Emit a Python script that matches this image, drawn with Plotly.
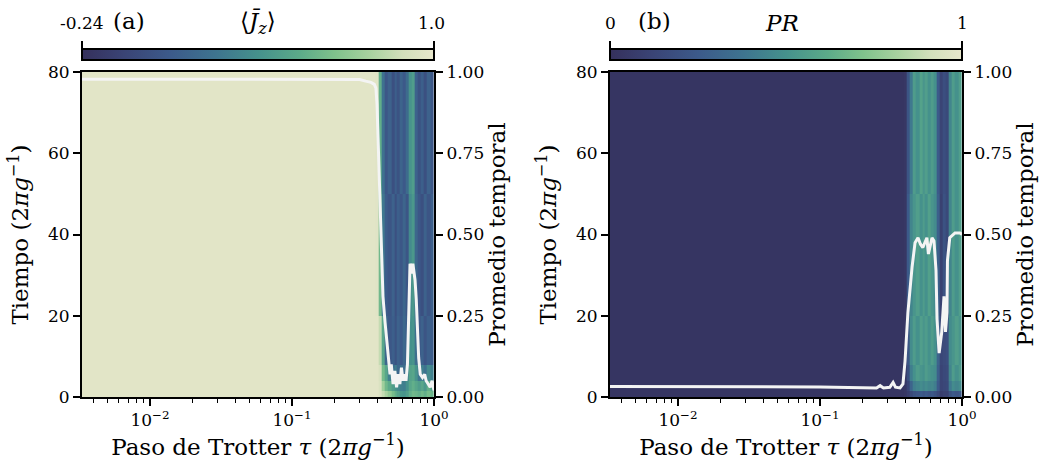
import plotly.graph_objects as go

# ---------------- data ----------------
tau_edges = [0.0033, 0.39, 0.41, 0.43, 0.45, 0.475, 0.50, 0.525, 0.55, 0.575,
             0.605, 0.635, 0.667, 0.70, 0.735, 0.77, 0.81, 0.85, 0.89, 0.94, 1.0]
time_edges = [0, 1.5, 4, 8, 20, 50, 80]

# <J_z> heat map, rows from t=0 upward
jz_values = [
    [0.97, 0.97, 0.93, 0.85, 0.78, 0.70, 0.62, 0.55, 0.48, 0.42, 0.40, 0.45, 0.55, 0.60, 0.58, 0.55, 0.60, 0.55, 0.62, 0.58],
    [0.97, 0.97, 0.93, 0.75, 0.60, 0.52, 0.45, 0.40, 0.35, 0.30, 0.28, 0.38, 0.50, 0.55, 0.50, 0.45, 0.50, 0.42, 0.55, 0.48],
    [0.97, 0.97, 0.92, 0.62, 0.50, 0.30, 0.20, 0.28, 0.15, 0.22, 0.18, 0.30, 0.48, 0.50, 0.40, 0.25, 0.30, 0.22, 0.35, 0.30],
    [0.97, 0.97, 0.85, 0.50, 0.15, 0.05, 0.10, 0.02, 0.12, 0.06, 0.15, 0.08, 0.38, 0.40, 0.20, 0.06, 0.12, 0.03, 0.10, 0.08],
    [0.97, 0.96, 0.60, 0.25, 0.08, 0.03, 0.12, 0.00, 0.10, 0.05, 0.14, 0.04, 0.35, 0.42, 0.15, 0.05, 0.00, 0.12, 0.03, 0.10],
    [0.97, 0.96, 0.55, 0.22, 0.05, 0.12, 0.00, 0.10, 0.02, 0.13, 0.06, 0.18, 0.40, 0.45, 0.12, 0.02, 0.10, 0.00, 0.12, 0.05],
]

# PR heat map, rows from t=0 upward
pr_values = [
    [0.03, 0.04, 0.08, 0.15, 0.20, 0.22, 0.25, 0.22, 0.25, 0.22, 0.24, 0.20, 0.15, 0.08, 0.10, 0.10, 0.20, 0.25, 0.22, 0.25],
    [0.03, 0.04, 0.12, 0.30, 0.42, 0.45, 0.48, 0.45, 0.48, 0.45, 0.46, 0.42, 0.25, 0.12, 0.14, 0.15, 0.40, 0.48, 0.45, 0.48],
    [0.03, 0.04, 0.18, 0.42, 0.50, 0.55, 0.52, 0.50, 0.55, 0.52, 0.50, 0.48, 0.28, 0.12, 0.15, 0.16, 0.45, 0.55, 0.50, 0.54],
    [0.03, 0.04, 0.22, 0.48, 0.55, 0.50, 0.56, 0.52, 0.55, 0.50, 0.55, 0.50, 0.30, 0.14, 0.16, 0.18, 0.48, 0.52, 0.56, 0.52],
    [0.03, 0.04, 0.25, 0.45, 0.52, 0.56, 0.50, 0.55, 0.50, 0.57, 0.52, 0.48, 0.28, 0.10, 0.20, 0.15, 0.45, 0.55, 0.50, 0.56],
    [0.03, 0.04, 0.22, 0.40, 0.55, 0.50, 0.58, 0.52, 0.56, 0.50, 0.55, 0.50, 0.25, 0.12, 0.18, 0.15, 0.45, 0.55, 0.50, 0.56],
]

# time averages (white curves)
jz_avg_tau = [0.0033, 0.03, 0.10, 0.30, 0.33, 0.36, 0.38, 0.39, 0.397, 0.41, 0.423, 0.437,
              0.452, 0.474, 0.49, 0.50, 0.515, 0.53, 0.545, 0.56, 0.575, 0.59, 0.605, 0.62,
              0.635, 0.65, 0.665, 0.678, 0.69, 0.70, 0.71, 0.72, 0.735, 0.75, 0.765, 0.78,
              0.80, 0.83, 0.86, 0.88, 0.91, 0.94, 0.97, 1.0]
jz_avg = [0.978, 0.978, 0.978, 0.977, 0.972, 0.968, 0.962, 0.95, 0.90, 0.70, 0.47, 0.31,
          0.23, 0.12, 0.07, 0.10, 0.04, 0.08, 0.03, 0.07, 0.04, 0.09, 0.05, 0.07,
          0.05, 0.10, 0.30, 0.41, 0.40, 0.38, 0.41, 0.39, 0.36, 0.30, 0.20, 0.12,
          0.07, 0.06, 0.07, 0.05, 0.04, 0.03, 0.05, 0.02]

pr_avg_tau = [0.0033, 0.03, 0.10, 0.25, 0.265, 0.28, 0.31, 0.327, 0.34, 0.366, 0.384,
              0.397, 0.416, 0.445, 0.467, 0.49, 0.51, 0.53, 0.566, 0.58, 0.615, 0.635,
              0.656, 0.667, 0.69, 0.72, 0.747, 0.765, 0.784, 0.79, 0.82, 0.893, 0.968, 1.0]
pr_avg = [0.032, 0.031, 0.031, 0.028, 0.035, 0.028, 0.03, 0.045, 0.03, 0.028, 0.04,
          0.11, 0.26, 0.40, 0.475, 0.49, 0.47, 0.46, 0.49, 0.44, 0.49, 0.48,
          0.39, 0.24, 0.135, 0.20, 0.31, 0.20, 0.26, 0.42, 0.49, 0.505, 0.505, 0.50]

jz_range = [-0.24, 1.0]
pr_range = [0.0, 1.0]
x_tick_vals = [0.01, 0.1, 1.0]
x_tick_text = ["10<sup>−2</sup>", "10<sup>−1</sup>", "10<sup>0</sup>"]
x_minor_vals = [0.004, 0.005, 0.006, 0.007, 0.008, 0.009,
                0.02, 0.03, 0.04, 0.05, 0.06, 0.07, 0.08, 0.09,
                0.2, 0.3, 0.4, 0.5, 0.6, 0.7, 0.8, 0.9]
time_ticks = [0, 20, 40, 60, 80]
avg_ticks = [0, 0.25, 0.5, 0.75, 1.0]
avg_tick_text = ["0.00", "0.25", "0.50", "0.75", "1.00"]

# ---------------- styling ----------------
FONT = "DejaVu Serif"
colorscale = [
    [0.0, "#35305c"], [0.12, "#3a4475"], [0.25, "#3c5a8a"], [0.38, "#3e748f"],
    [0.5, "#45918c"], [0.62, "#5cab89"], [0.72, "#80c28c"], [0.82, "#a9d2a0"],
    [0.91, "#d2dfbb"], [1.0, "#e8e7cc"],
]
LINE_W = 2
TICK_FS = 17
TITLE_FS = 23

fig = go.Figure()

cb_common = dict(orientation="h", lenmode="pixels", len=352, thickness=11,
                 xanchor="center", yanchor="bottom", y=1.0308, ypad=0, xpad=0,
                 showticklabels=False, ticks="", outlinewidth=2, outlinecolor="black")

fig.add_trace(go.Heatmap(x=tau_edges, y=time_edges, z=jz_values,
                         zmin=jz_range[0], zmax=jz_range[1], colorscale=colorscale,
                         colorbar=dict(x=0.2, **cb_common), xaxis="x", yaxis="y"))
fig.add_trace(go.Scatter(x=jz_avg_tau, y=jz_avg, mode="lines",
                         line=dict(color="#f4f4f4", width=3), xaxis="x", yaxis="y2",
                         showlegend=False, hoverinfo="skip"))

fig.add_trace(go.Heatmap(x=tau_edges, y=time_edges, z=pr_values,
                         zmin=pr_range[0], zmax=pr_range[1], colorscale=colorscale,
                         colorbar=dict(x=0.8, **cb_common), xaxis="x2", yaxis="y3"))
fig.add_trace(go.Scatter(x=pr_avg_tau, y=pr_avg, mode="lines",
                         line=dict(color="#f4f4f4", width=3), xaxis="x2", yaxis="y4",
                         showlegend=False, hoverinfo="skip"))

xtitle = "Paso de Trotter <i>τ</i> (2<i>πg</i><sup>−1</sup>)"
ytitle = "Tiempo (2<i>πg</i><sup>−1</sup>)"

def xaxis(domain, anchor):
    return dict(domain=domain, anchor=anchor, type="log", range=[-2.479, 0],
                tickmode="array", tickvals=x_tick_vals, ticktext=x_tick_text,
                ticks="outside", ticklen=7, tickwidth=2, tickcolor="black",
                minor=dict(tickmode="array", tickvals=x_minor_vals, ticks="outside",
                           ticklen=4, tickwidth=1, tickcolor="black", showgrid=False),
                showline=True, linewidth=LINE_W, linecolor="black", mirror=True,
                showgrid=False, zeroline=False,
                tickfont=dict(size=TICK_FS, family=FONT, color="black"),
                title=dict(text=xtitle, font=dict(size=TITLE_FS, family=FONT, color="black"),
                           standoff=6))

def yleft(anchor):
    return dict(domain=[0, 1], anchor=anchor, range=[0, 80],
                tickmode="array", tickvals=time_ticks,
                ticks="outside", ticklen=7, tickwidth=2, tickcolor="black",
                showline=True, linewidth=LINE_W, linecolor="black",
                showgrid=False, zeroline=False,
                tickfont=dict(size=TICK_FS, family=FONT, color="black"),
                title=dict(text=ytitle, font=dict(size=TITLE_FS, family=FONT, color="black"),
                           standoff=6))

def yright(anchor, over):
    return dict(anchor=anchor, overlaying=over, side="right", range=[0, 1],
                tickmode="array", tickvals=avg_ticks, ticktext=avg_tick_text,
                ticks="outside", ticklen=7, tickwidth=2, tickcolor="black",
                showline=True, linewidth=LINE_W, linecolor="black",
                showgrid=False, zeroline=False,
                tickfont=dict(size=TICK_FS, family=FONT, color="black"),
                title=dict(text="Promedio temporal",
                           font=dict(size=TITLE_FS, family=FONT, color="black"),
                           standoff=6))

fig.update_layout(
    width=1051, height=470,
    margin=dict(l=82, r=89, t=72, b=73, autoexpand=False),
    paper_bgcolor="white", plot_bgcolor="white",
    font=dict(family=FONT, color="black", size=TICK_FS),
    showlegend=False,
    xaxis=xaxis([0, 0.4], "y"),
    yaxis=yleft("x"),
    yaxis2=yright("x", "y"),
    xaxis2=xaxis([0.6, 1.0], "y3"),
    yaxis3=yleft("x2"),
    yaxis4=yright("x2", "y3"),
)

# colourbar labels and end ticks
ann_y = 1.152
annots = [
    dict(text="-0.24", x=0.0, y=ann_y, fs=TICK_FS),
    dict(text="1.0", x=0.3977, y=ann_y, fs=TICK_FS),
    dict(text="(a)", x=0.0534, y=1.158, fs=TITLE_FS),
    dict(text="⟨<i>J̄</i><sub><i>z</i></sub>⟩", x=0.2, y=1.152, fs=TITLE_FS),
    dict(text="0", x=0.6, y=ann_y, fs=TICK_FS),
    dict(text="1", x=1.0, y=ann_y, fs=TICK_FS),
    dict(text="(b)", x=0.651, y=1.158, fs=TITLE_FS),
    dict(text="<i>PR</i>", x=0.795, y=1.152, fs=TITLE_FS),
]
for a in annots:
    fig.add_annotation(text=a["text"], x=a["x"], y=a["y"], xref="paper", yref="paper",
                       showarrow=False, xanchor="center", yanchor="middle",
                       font=dict(size=a["fs"], family=FONT, color="black"))

for xe in [0.0, 0.4, 0.6, 1.0]:
    fig.add_shape(type="line", xref="paper", yref="paper", x0=xe, x1=xe,
                  y0=1.0677, y1=1.0954, line=dict(color="black", width=2))

fig.write_html("out.html")
